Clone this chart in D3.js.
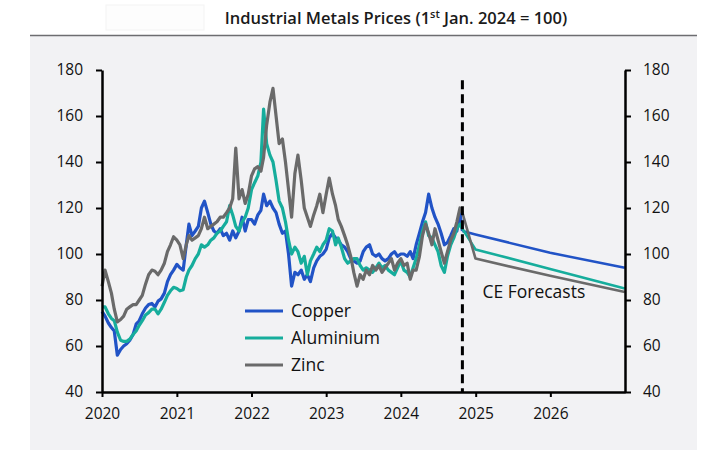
<!DOCTYPE html>
<html><head><meta charset="utf-8">
<script src="https://cdn.jsdelivr.net/npm/d3@7"></script>
<style>
body{margin:0;background:#fff;}
text{font-family:"Open Sans",sans-serif;fill:#111;}
</style>
</head><body><svg id="c" width="711" height="450"></svg>
<script>
// ---- data ----
const seriesNames = ["Copper", "Aluminium", "Zinc"];
const seriesColors = ["#2153c6", "#16ad9c", "#6a6a6a"];
// semi-monthly observations (1st and 16th of each month) from Jan 2020 to Oct 2024, last value = 28 Oct 2024
const histStart = "2020-01-01";
const histEnd = "2024-10-28";
const copper = [
  75, 73, 70, 68, 66.5, 56, 58.5, 60, 61, 62.5, 65, 69.5, 71, 74, 76.5, 78, 78.5, 77, 79.5, 80.5, 83, 88, 91, 93,
  95.5, 94, 93, 104, 113, 108, 110, 112, 120, 123, 118, 113, 110, 109, 111, 108, 109, 106, 110, 107, 110, 116, 110, 115,
  115, 113, 117, 119, 126, 121, 123, 120, 118, 113, 109, 110, 100, 86, 92, 91, 93, 89, 91, 88, 94, 97, 99, 100,
  102, 107, 109, 107, 106, 104, 103, 101, 98, 97, 96, 97, 101, 103, 104, 100, 99, 100, 98, 97, 98, 100, 101, 99,
  100, 100, 99, 101, 98, 104, 109, 114, 118, 126, 120, 116, 113, 109, 104, 105, 108, 111, 110, 118, 110
];
const aluminium = [
  77, 77, 74, 72, 71, 66, 62.5, 62, 62, 63, 65, 66.5, 69, 71, 73.5, 74.5, 76, 76, 74, 76, 79, 82, 84, 85.5,
  85, 84, 84.5, 90, 93, 95, 98, 100, 104, 103, 104, 106, 107, 109, 110, 112, 114, 121, 117, 112, 110, 114, 116, 120,
  128, 131, 134, 140, 163, 148, 143, 140, 132, 123, 120, 114, 106, 100, 103, 101, 96, 99, 91, 97, 100, 103, 101, 104,
  106, 111, 110, 104, 107, 103, 98, 96, 97, 98, 98, 95, 93, 94, 93, 92, 94, 96, 94, 95, 93, 92, 91, 94,
  97, 93, 92, 90, 94, 98, 104, 110, 114, 108, 107, 104, 101, 95, 92, 99, 104, 107, 111, 113, 111
];
const zinc = [
  86, 93, 88, 83, 76, 70.5, 71.5, 73, 76, 77, 78, 78, 80, 82, 87, 91, 93, 92.5, 91, 93, 96, 101, 104, 107.5,
  106, 104, 98, 104, 108, 106, 107, 108, 111, 116, 111, 112, 113, 114, 116, 116, 118, 120, 124, 146, 124, 128, 122, 126,
  134, 137, 138, 136, 142, 156, 166, 172, 160, 148, 150, 140, 128, 116, 135, 143, 132, 120, 116, 112, 117, 121, 126, 118,
  126, 133, 126, 121, 115, 112, 108, 104, 99, 92, 86, 91, 89, 93, 91, 95, 93, 95, 92, 94, 96, 98, 93, 96,
  98, 95, 96, 89, 93, 93, 99, 108, 113, 109, 104, 111, 106, 101, 96, 101, 106, 109, 114, 120, 118
];
const forecastDates = ["2024-10-28", "2024-12-31", "2025-12-31", "2026-12-31"];
const copperForecast = [110, 108.5, 100.5, 94];
const aluminiumForecast = [111, 102, 93.5, 85];
const zincForecast = [118, 98, 90.5, 83.5];
const yTicks = [40, 60, 80, 100, 120, 140, 160, 180];
const xTickYears = [2020, 2021, 2022, 2023, 2024, 2025, 2026];
const xDomain = ["2020-01-01", "2027-01-01"];
const yDomain = [40, 180];
const forecastLabel = "CE Forecasts";

// ---- build ----
const parse = d3.timeParse("%Y-%m-%d");
const months = d3.timeMonth.range(parse(histStart), d3.timeMonth.offset(d3.timeMonth.floor(parse(histEnd)), 1));
const histDates = months.flatMap(m => [m, d3.timeDay.offset(m, 15)]);
histDates.push(parse(histEnd));

const hist = [copper, aluminium, zinc];
const fc = [copperForecast, aluminiumForecast, zincForecast];

const svg = d3.select("#c");
const W = 711, H = 450;
const L = 102, R = 625, T = 70, B = 392;

// background
svg.append("rect").attr("x", 0).attr("y", 0).attr("width", W).attr("height", H).attr("fill", "#fff");
svg.append("rect").attr("x", 30).attr("y", 36).attr("width", 667).attr("height", H - 36).attr("fill", "#f2f2f4");
svg.append("rect").attr("x", 106).attr("y", 5).attr("width", 98).attr("height", 25).attr("fill", "#fdfdfd").attr("stroke", "#f3f3f3");
svg.append("line").attr("x1", 30).attr("x2", 697).attr("y1", 35.5).attr("y2", 35.5).attr("stroke", "#6d6d70").attr("stroke-width", 1.5);

// title
const title = svg.append("text").attr("x", 396).attr("y", 24).attr("text-anchor", "middle")
  .style("font-size", "16.5px").style("font-weight", "600").style("fill", "#1a1a1a");
title.append("tspan").text("Industrial Metals Prices (1");
title.append("tspan").attr("dy", -6).style("font-size", "11px").text("st");
title.append("tspan").attr("dy", 6).text(" Jan. 2024 = 100)");

const x = d3.scaleTime().domain(xDomain.map(parse)).range([L, R]);
const y = d3.scaleLinear().domain(yDomain).range([B, T]);

// lines
const line = d3.line().x(d => x(d[0])).y(d => y(d[1]));
hist.forEach((vals, k) => {
  svg.append("path").datum(vals.map((v, i) => [histDates[i], v]))
    .attr("d", line).attr("fill", "none").attr("stroke", seriesColors[k])
    .attr("stroke-width", 3.2).attr("stroke-linejoin", "round");
});
fc.forEach((vals, k) => {
  svg.append("path").datum(vals.map((v, i) => [parse(forecastDates[i]), v]))
    .attr("d", line).attr("fill", "none").attr("stroke", seriesColors[k])
    .attr("stroke-width", 2.6).attr("stroke-linejoin", "round");
});

// forecast divider
const xf = x(parse(forecastDates[0]));
svg.append("line").attr("x1", xf).attr("x2", xf).attr("y1", y(175.5)).attr("y2", B)
  .attr("stroke", "#000").attr("stroke-width", 3).attr("stroke-dasharray", "9,5");
svg.append("text").attr("x", xf + 20).attr("y", y(83.5)).attr("dy", "0.35em")
  .style("font-size", "17.5px").text(forecastLabel);

// axes
function styleAxis(g) {
  g.selectAll("path.domain").attr("stroke", "#000").attr("stroke-width", 2.5);
  g.selectAll(".tick line").attr("stroke", "#000").attr("stroke-width", 2);
  g.selectAll(".tick text").style("font-size", "15.5px").style("font-family", "'Open Sans',sans-serif").attr("fill", "#111");
}
svg.append("g").attr("transform", `translate(${L},0)`)
  .call(d3.axisLeft(y).tickValues(yTicks).tickSize(6).tickSizeOuter(0).tickPadding(13))
  .call(styleAxis);
svg.append("g").attr("transform", `translate(${R},0)`)
  .call(d3.axisRight(y).tickValues(yTicks).tickSize(6).tickSizeOuter(0).tickPadding(12))
  .call(g => g.selectAll(".tick text").attr("text-anchor", "start"))
  .call(styleAxis);
svg.append("g").attr("transform", `translate(0,${B})`)
  .call(d3.axisBottom(x).tickValues(xTickYears.map(yr => new Date(yr, 0, 1))).tickFormat(d3.timeFormat("%Y"))
    .tickSize(5).tickSizeOuter(0).tickPadding(11))
  .call(styleAxis);

// legend
const lg = svg.append("g");
seriesNames.forEach((name, k) => {
  const ly = 311 + k * 27;
  lg.append("line").attr("x1", 245).attr("x2", 283).attr("y1", ly).attr("y2", ly)
    .attr("stroke", seriesColors[k]).attr("stroke-width", 3);
  lg.append("text").attr("x", 291).attr("y", ly).attr("dy", "0.35em").style("font-size", "17.5px").text(name);
});
</script>
</body></html>
